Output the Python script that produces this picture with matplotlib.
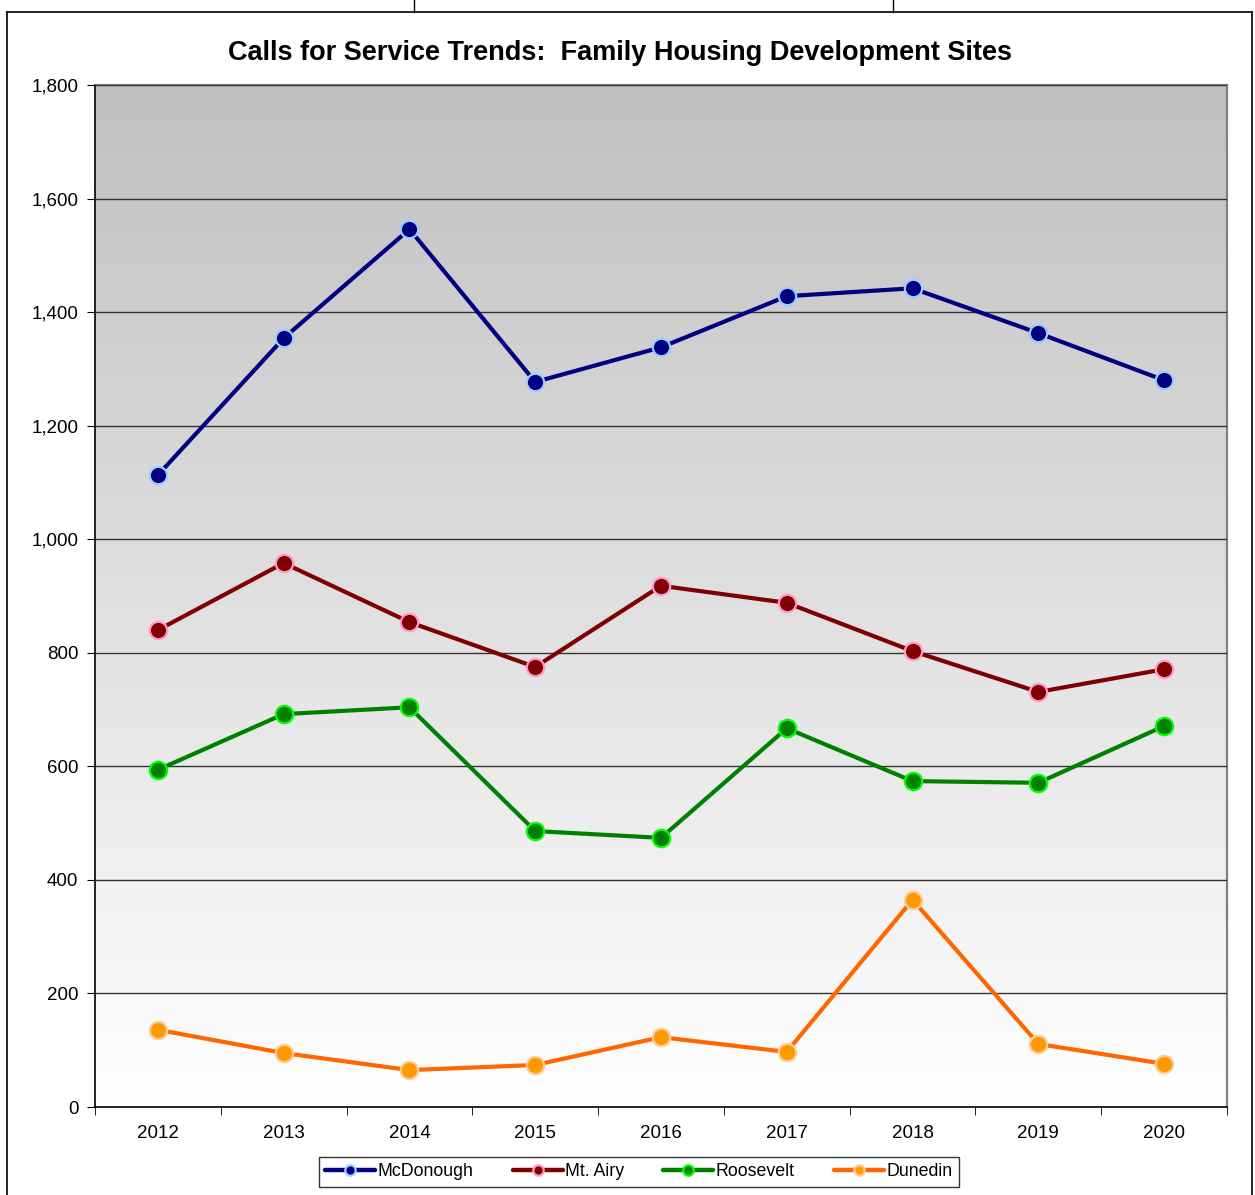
import matplotlib
matplotlib.use("Agg")
import matplotlib.pyplot as plt
import numpy as np
from matplotlib.lines import Line2D
from matplotlib.colors import LinearSegmentedColormap

plt.rcParams['font.family'] = ['Liberation Sans', 'DejaVu Sans']

years = ['2012', '2013', '2014', '2015', '2016', '2017', '2018', '2019', '2020']
mcdonough = [1113, 1354, 1546, 1277, 1338, 1428, 1442, 1363, 1280]
mt_airy = [840, 958, 854, 775, 918, 888, 803, 731, 771]
roosevelt = [594, 692, 704, 486, 474, 667, 574, 571, 671]
dunedin = [136, 95, 65, 74, 123, 97, 365, 111, 76]
series_names = ['McDonough', 'Mt. Airy', 'Roosevelt', 'Dunedin']
title = 'Calls for Service Trends:  Family Housing Development Sites'

styles = [
    dict(color='#000080', mfc='#000080', mec='#99ccff'),
    dict(color='#800000', mfc='#800000', mec='#ff99cc'),
    dict(color='#008000', mfc='#008000', mec='#00ff00'),
    dict(color='#ff6600', mfc='#ff9900', mec='#ffcc99'),
]

W, H = 1255, 1195
fig = plt.figure(figsize=(W / 100, H / 100), dpi=100)
fig.patch.set_facecolor('white')

# outer frame
fig.add_artist(Line2D([7 / W, 7 / W], [0, 1 - 12 / H], color='black', lw=1.2, transform=fig.transFigure))
fig.add_artist(Line2D([1252 / W, 1252 / W], [0, 1 - 12 / H], color='black', lw=1.2, transform=fig.transFigure))
fig.add_artist(Line2D([7 / W, 1252 / W], [1 - 12 / H, 1 - 12 / H], color='black', lw=1.2, transform=fig.transFigure))
# partial box at top (cut off)
fig.add_artist(Line2D([414 / W, 414 / W], [1 - 12 / H, 1], color='black', lw=1.0, transform=fig.transFigure))
fig.add_artist(Line2D([893 / W, 893 / W], [1 - 12 / H, 1], color='black', lw=1.0, transform=fig.transFigure))

left, right, top, bottom = 95, 1227, 85, 1107
ax = fig.add_axes([left / W, 1 - bottom / H, (right - left) / W, (bottom - top) / H])

n = len(years)
ax.set_xlim(0, n)
ax.set_ylim(0, 1800)

# gradient background
cmap = LinearSegmentedColormap.from_list('bg', ['#ffffff', '#c0c0c0'])
grad = np.linspace(0, 1, 256).reshape(-1, 1)
ax.imshow(grad, extent=[0, n, 0, 1800], origin='lower', aspect='auto', cmap=cmap, zorder=0)

ax.set_yticks(np.arange(0, 1801, 200))
ax.set_yticklabels([f'{v:,}' for v in range(0, 1801, 200)], fontsize=13.5)
ax.grid(axis='y', color='#333333', lw=1.0, zorder=1)
ax.set_axisbelow(False)

xs = np.arange(n) + 0.5
for name, data, st in zip(series_names, [mcdonough, mt_airy, roosevelt, dunedin], styles):
    ax.plot(xs, data, color=st['color'], lw=3.0, marker='o', ms=12.5,
            mfc=st['mfc'], mec=st['mec'], mew=1.6, label=name, zorder=3, solid_capstyle='round')

ax.set_xticks(xs)
ax.set_xticklabels(years, fontsize=13.5)
ax.tick_params(axis='x', which='major', length=0, pad=13)
ax.set_xticks(np.arange(0, n + 1), minor=True)
ax.tick_params(axis='x', which='minor', length=6, direction='out', color='black')
ax.tick_params(axis='y', length=6, direction='out', pad=6, color='black')

for s in ['left', 'bottom']:
    ax.spines[s].set_color('black')
    ax.spines[s].set_linewidth(1.2)
for s in ['top', 'right']:
    ax.spines[s].set_color('#808080')
    ax.spines[s].set_linewidth(1.6)

fig.text(620 / W, 1 - 53 / H, title, ha='center', va='center', fontsize=19.5, fontweight='bold')

leg = fig.legend(loc='center', bbox_to_anchor=(639 / W, 1 - 1172 / H), ncol=4, frameon=True,
                 fontsize=12.8, handlelength=2.8, handletextpad=0.15, columnspacing=2.2,
                 borderpad=0.35, borderaxespad=0, fancybox=False, edgecolor='black', markerscale=0.6)
leg._legend_box.align = 'center'
leg.get_frame().set_linewidth(1.0)
for h in leg.get_lines():
    h.set_linewidth(3.2)

fig.savefig('out.png', dpi=100, facecolor='white')
